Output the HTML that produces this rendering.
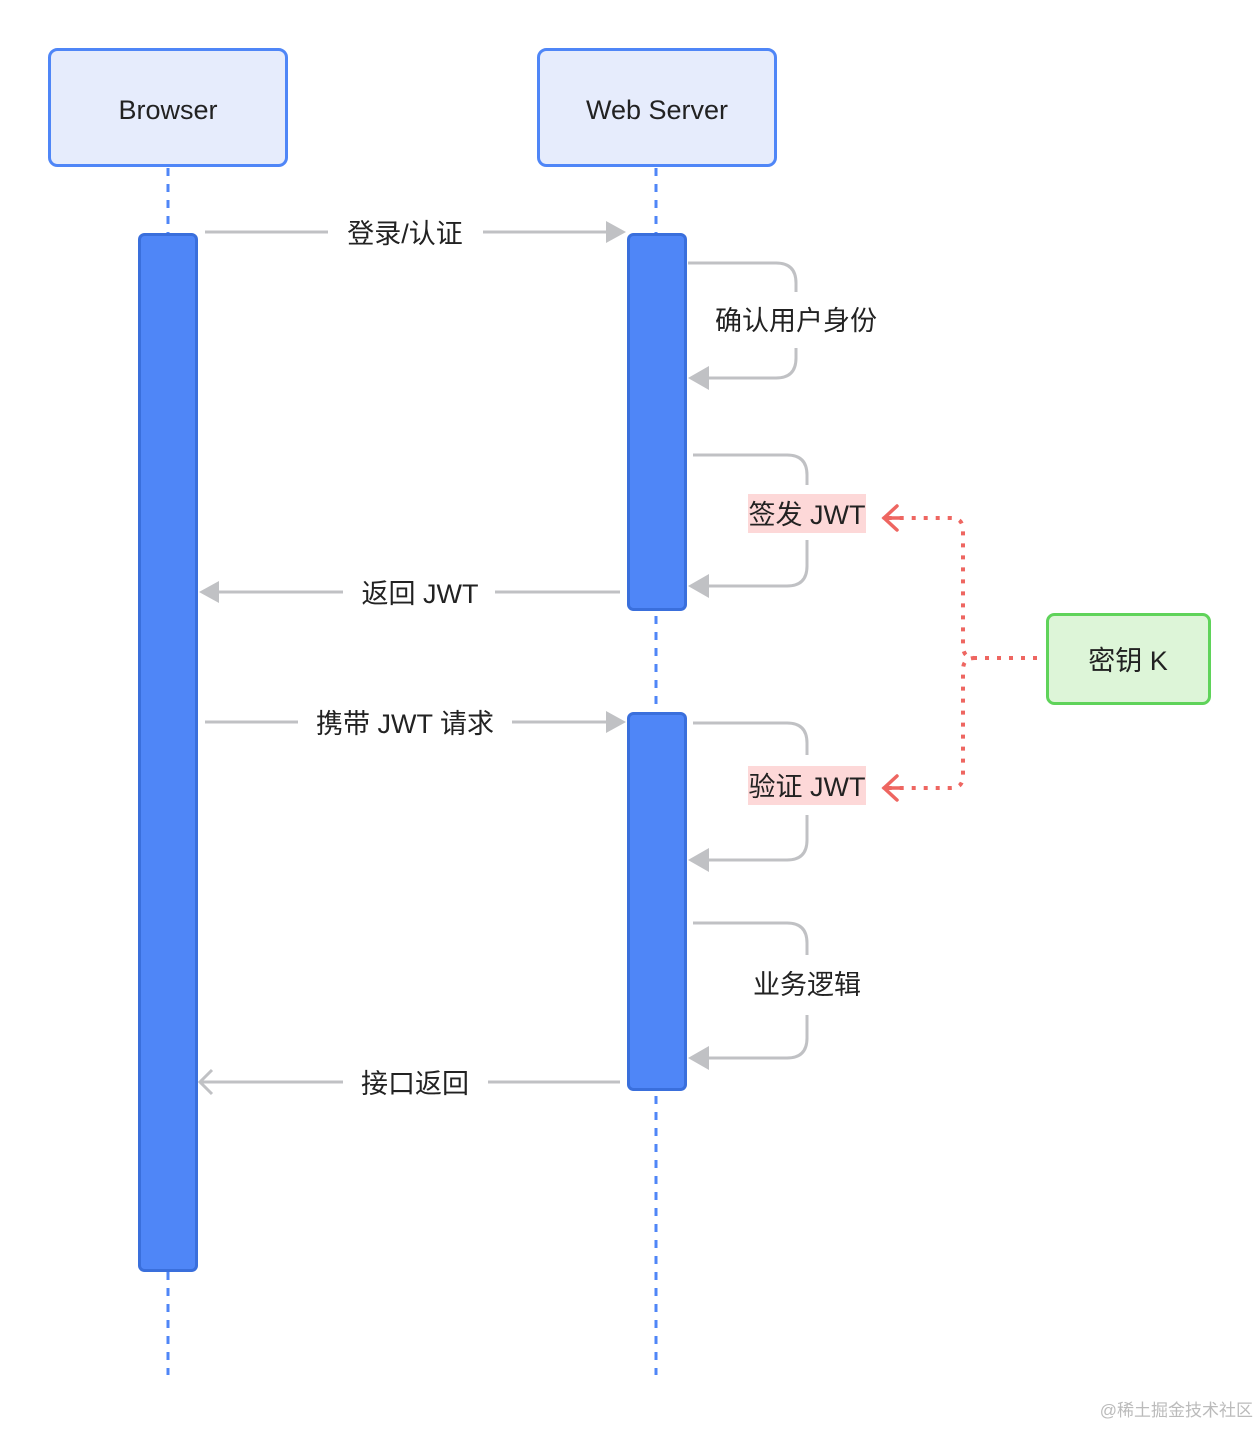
<!DOCTYPE html>
<html><head><meta charset="utf-8"><style>
html,body{margin:0;padding:0;background:#fff;}
svg text{font-family:"Liberation Sans","Noto Sans CJK SC",sans-serif;fill:#222;}
</style></head><body>
<svg width="1260" height="1426" viewBox="0 0 1260 1426" xmlns="http://www.w3.org/2000/svg">
<line x1="168" y1="168" x2="168" y2="1375" stroke="#4f86f7" stroke-width="3" stroke-dasharray="8,8"/>
<line x1="656" y1="168" x2="656" y2="1375" stroke="#4f86f7" stroke-width="3" stroke-dasharray="8,8"/>
<rect x="49.5" y="49.5" width="237" height="116" rx="8" fill="#e6ecfc" stroke="#4f86f7" stroke-width="3"/>
<text x="168" y="119" font-size="27" text-anchor="middle">Browser</text>
<rect x="538.5" y="49.5" width="237" height="116" rx="8" fill="#e6ecfc" stroke="#4f86f7" stroke-width="3"/>
<text x="657" y="119" font-size="27" text-anchor="middle">Web Server</text>
<rect x="139.5" y="234.5" width="57" height="1036" rx="5" fill="#4f86f7" stroke="#3a6fdc" stroke-width="3"/>
<rect x="628.5" y="234.5" width="57" height="375" rx="5" fill="#4f86f7" stroke="#3a6fdc" stroke-width="3"/>
<rect x="628.5" y="713.5" width="57" height="376" rx="5" fill="#4f86f7" stroke="#3a6fdc" stroke-width="3"/>
<g stroke="#c0c1c4" stroke-width="3" fill="none">
<line x1="205" y1="232" x2="328" y2="232"/>
<line x1="483" y1="232" x2="608" y2="232"/>
<line x1="620" y1="592" x2="495" y2="592"/>
<line x1="343" y1="592" x2="215" y2="592"/>
<line x1="205" y1="722" x2="298" y2="722"/>
<line x1="512" y1="722" x2="608" y2="722"/>
<line x1="620" y1="1082" x2="488" y2="1082"/>
<line x1="343" y1="1082" x2="202" y2="1082"/>
<polyline points="212,1070 200,1082 212,1094"/>
<path d="M688,263 H776 Q796,263 796,283 V292"/>
<path d="M796,348 V358 Q796,378 776,378 H706"/>
<path d="M693,455 H787 Q807,455 807,475 V485"/>
<path d="M807,540 V566 Q807,586 787,586 H706"/>
<path d="M693,723 H787 Q807,723 807,743 V755"/>
<path d="M807,815 V840 Q807,860 787,860 H706"/>
<path d="M693,923 H787 Q807,923 807,943 V955"/>
<path d="M807,1015 V1038 Q807,1058 787,1058 H706"/>
</g>
<g fill="#c0c1c4">
<polygon points="606,221 626,232 606,243"/>
<polygon points="219,581 199,592 219,603"/>
<polygon points="606,711 626,722 606,733"/>
<polygon points="709,366 688,378 709,390"/>
<polygon points="709,574 688,586 709,598"/>
<polygon points="709,848 688,860 709,872"/>
<polygon points="709,1046 688,1058 709,1070"/>
</g>
<text x="405" y="243" font-size="27" text-anchor="middle">登录/认证</text>
<text x="420" y="603" font-size="27" text-anchor="middle">返回 JWT</text>
<text x="405" y="733" font-size="27" text-anchor="middle">携带 JWT 请求</text>
<text x="415" y="1093" font-size="27" text-anchor="middle">接口返回</text>
<text x="796" y="330" font-size="27" text-anchor="middle">确认用户身份</text>
<rect x="748" y="494" width="118" height="39" fill="#fdd8d8"/>
<text x="807" y="524" font-size="27" text-anchor="middle">签发 JWT</text>
<rect x="748" y="766" width="118" height="39" fill="#fdd8d8"/>
<text x="807" y="796" font-size="27" text-anchor="middle">验证 JWT</text>
<text x="807" y="994" font-size="27" text-anchor="middle">业务逻辑</text>
<rect x="1047.5" y="614.5" width="162" height="89" rx="7" fill="#ddf5d8" stroke="#5fd35a" stroke-width="3"/>
<text x="1128" y="670" font-size="27" text-anchor="middle">密钥 K</text>
<g stroke="#ee6661" stroke-width="4" fill="none" stroke-dasharray="4,8">
<path d="M1037,658 H975 Q963,658 963,646 V530 Q963,518 951,518 H888"/>
<path d="M975,658 Q963,658 963,670 V776 Q963,788 951,788 H888"/>
</g>
<g stroke="#ee6661" stroke-width="3.5" fill="none" stroke-linecap="round">
<polyline points="897,506 884,518 897,530"/>
<line x1="884" y1="518" x2="900" y2="518"/>
<polyline points="897,776 884,788 897,800"/>
<line x1="884" y1="788" x2="900" y2="788"/>
</g>
<text x="1253" y="1416" font-size="17" text-anchor="end" style="fill:#bbb">@稀土掘金技术社区</text>
</svg>
</body></html>
